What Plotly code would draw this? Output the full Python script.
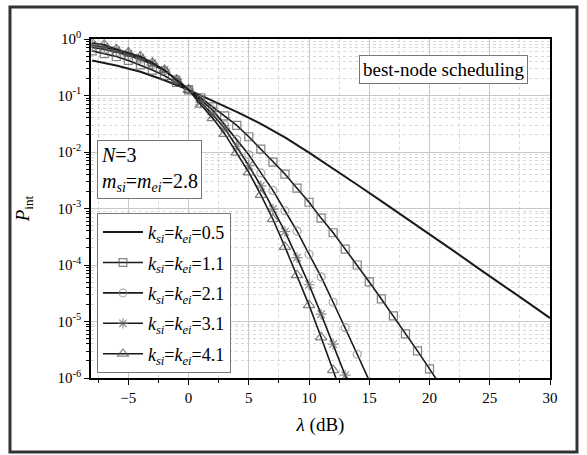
import numpy as np
import plotly.graph_objects as go

# SNR axis (dB)
snr_line = [-8, -6, -4, -2, 0, 2, 4, 6, 8, 10, 12, 14, 16, 18, 20, 22, 24, 26, 28, 30]
snr_k11 = list(range(-8, 22))
snr_k21 = list(range(-8, 16))
snr_k31 = list(range(-8, 15))
snr_k41 = list(range(-8, 14))

# P_int values
p_k05 = [0.417, 0.339, 0.263, 0.186, 0.126, 8.13e-2, 5.13e-2, 3.16e-2, 1.82e-2, 9.77e-3,
         5.13e-3, 2.63e-3, 1.35e-3, 6.92e-4, 3.55e-4, 1.78e-4, 8.91e-5, 4.57e-5, 2.29e-5, 1.15e-5]
p_k11 = [0.617, 0.550, 0.490, 0.417, 0.347, 0.282, 0.224, 0.170, 0.126, 9.12e-2,
         6.31e-2, 4.37e-2, 2.95e-2, 1.86e-2, 1.12e-2, 6.61e-3, 4.07e-3, 2.29e-3, 1.29e-3, 6.76e-4,
         3.72e-4, 1.91e-4, 1.00e-4, 5.01e-5, 2.51e-5, 1.26e-5, 6.03e-6, 3.02e-6, 1.45e-6, 6.9e-7]
p_k21 = [0.708, 0.661, 0.589, 0.513, 0.437, 0.355, 0.275, 0.195, 0.129, 8.51e-2,
         5.50e-2, 3.02e-2, 1.66e-2, 8.91e-3, 4.27e-3, 2.09e-3, 9.12e-4, 3.98e-4, 1.55e-4, 6.17e-5,
         2.19e-5, 7.76e-6, 2.63e-6, 8.9e-7]
p_k31 = [0.776, 0.724, 0.631, 0.550, 0.468, 0.372, 0.282, 0.191, 0.129, 7.59e-2,
         4.57e-2, 2.63e-2, 1.26e-2, 5.75e-3, 2.51e-3, 9.77e-4, 3.89e-4, 1.35e-4, 4.47e-5, 1.35e-5,
         3.98e-6, 1.12e-6, 3.2e-7]
p_k41 = [0.851, 0.794, 0.661, 0.575, 0.490, 0.380, 0.282, 0.186, 0.126, 6.92e-2,
         3.98e-2, 2.09e-2, 9.77e-3, 4.37e-3, 1.74e-3, 6.46e-4, 2.09e-4, 6.61e-5, 1.95e-5, 5.25e-6,
         1.38e-6, 3.5e-7]

y_tick_vals = [1e-6, 1e-5, 1e-4, 1e-3, 1e-2, 1e-1, 1]
y_tick_text = ['10<sup>-6</sup>', '10<sup>-5</sup>', '10<sup>-4</sup>', '10<sup>-3</sup>',
               '10<sup>-2</sup>', '10<sup>-1</sup>', '10<sup>0</sup>']

FONT = 'Liberation Serif, DejaVu Serif, serif'
LINE = '#1a1a1a'


def label(k):
    return f'<i>k<sub>si</sub></i>=<i>k<sub>ei</sub></i>={k}'


def sizes(vals, s):
    # hide markers that fall below the visible range
    return [s if v >= 1e-6 else 0 for v in vals]


fig = go.Figure()

fig.add_trace(go.Scatter(
    x=snr_line, y=p_k05, mode='lines', name=label('0.5'), legendgroup='k05',
    line=dict(color=LINE, width=2)
))

series = [
    (snr_k11, p_k11, '1.1', 'square-open', 8, '#505050'),
    (snr_k21, p_k21, '2.1', 'circle-open', 8, '#888888'),
    (snr_k31, p_k31, '3.1', 'asterisk-open', 9, '#606060'),
    (snr_k41, p_k41, '4.1', 'triangle-up-open', 10, '#505050'),
]
for xs, ys, k, sym, sz, mc in series:
    fig.add_trace(go.Scatter(
        x=xs, y=ys, mode='lines+markers', name=label(k), legendgroup='k' + k,
        line=dict(color=LINE, width=1.6),
        marker=dict(symbol=sym, size=sizes(ys, sz), color=mc, line=dict(width=1.2, color=mc))
    ))

minor_y = [m * 10.0 ** e for e in range(-6, 0) for m in range(2, 10)]

fig.update_xaxes(
    range=[-8.1, 30], tick0=0, dtick=5,
    showline=True, linecolor='black', linewidth=1.5, mirror=True,
    ticks='outside', ticklen=5, tickcolor='black',
    showgrid=True, gridcolor='#c8c8c8', gridwidth=1, zeroline=False,
    minor=dict(dtick=2.5, ticks='outside', ticklen=3, tickcolor='black',
               showgrid=True, gridcolor='#d8d8d8', griddash='dot'),
    tickfont=dict(family=FONT, size=15, color='black'),
    title=dict(text='<i>λ</i> (dB)', font=dict(family=FONT, size=19, color='black'), standoff=13)
)
fig.update_yaxes(
    type='log', range=[-6, 0], tickmode='array', tickvals=y_tick_vals, ticktext=y_tick_text,
    showline=True, linecolor='black', linewidth=1.5, mirror=True,
    ticks='outside', ticklen=5, tickcolor='black',
    showgrid=True, gridcolor='#c8c8c8', gridwidth=1, zeroline=False,
    minor=dict(tickmode='array', tickvals=minor_y, ticks='outside', ticklen=3, tickcolor='black',
               showgrid=True, gridcolor='#d8d8d8', griddash='dot'),
    tickfont=dict(family=FONT, size=15, color='black'),
    title=dict(text='<i>P</i><sub>int</sub>', font=dict(family=FONT, size=19, color='black'), standoff=23)
)

fig.add_annotation(
    xref='paper', yref='paper', x=0.952, y=0.953, xanchor='right', yanchor='top',
    text='best-node scheduling', showarrow=False, align='left',
    font=dict(family=FONT, size=19, color='black'),
    bordercolor='#777777', borderwidth=1, borderpad=3, bgcolor='white'
)
fig.add_annotation(
    xref='paper', yref='paper', x=0.013, y=0.702, xanchor='left', yanchor='top',
    text='<i>N</i>=3<br><i>m<sub>si</sub></i>=<i>m<sub>ei</sub></i>=2.8', showarrow=False, align='left',
    font=dict(family=FONT, size=20, color='black'),
    bordercolor='#777777', borderwidth=1, borderpad=3, bgcolor='white'
)

# frame around the whole picture
fig.add_shape(type='rect', xref='paper', yref='paper',
              x0=-0.1765, x1=1.0588, y0=-0.2183, y1=1.0944,
              line=dict(color='#333333', width=3))

fig.update_layout(
    width=587, height=455,
    margin=dict(l=91, r=37, t=39, b=77),
    paper_bgcolor='white', plot_bgcolor='white',
    font=dict(family=FONT, color='black'),
    showlegend=True,
    legend=dict(
        x=0.013, y=0.487, xanchor='left', yanchor='top',
        bgcolor='white', bordercolor='#777777', borderwidth=1,
        font=dict(family=FONT, size=18, color='black'),
        itemwidth=40, tracegroupgap=4
    )
)

fig.write_html('out.html', config={'displayModeBar': False},
               post_script="document.body.style.margin='0';")
